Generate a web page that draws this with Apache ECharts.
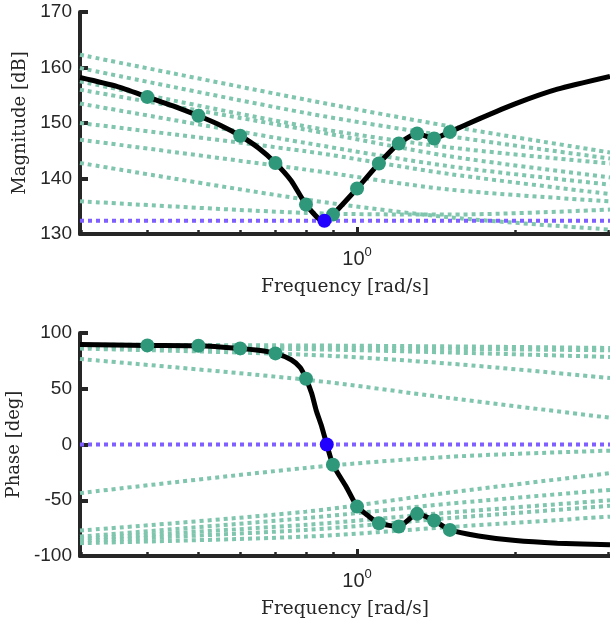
<!DOCTYPE html>
<html lang="en">
<head>
<meta charset="UTF-8">
<title>Bode</title>
<script src="https://cdn.jsdelivr.net/npm/echarts@6.0.0/dist/echarts.min.js"></script>
</head>
<body style="margin:0">
<div id="main" style="width:610px;height:623px;"></div>
<script>
// black response curve (magnitude)
const magFreq = [0.298, 0.35, 0.4, 0.45, 0.5, 0.55, 0.6, 0.65, 0.7, 0.75, 0.8, 0.867, 0.9, 1.0, 1.1, 1.2, 1.3, 1.4, 1.5, 1.7, 2.0, 2.4, 3.02];
const magCurve = [158.2, 156.6, 154.7, 153.0, 151.3, 149.6, 147.7, 145.5, 142.8, 139.6, 135.3, 132.1, 133.5, 138.2, 142.7, 146.3, 148.1, 147.2, 148.4, 150.7, 153.5, 156.1, 158.4];
// black response curve (phase)
const phaseFreq = [0.298, 0.4, 0.5, 0.6, 0.65, 0.7, 0.75, 0.78, 0.8, 0.82, 0.836, 0.857, 0.876, 0.9, 0.953, 1.0, 1.05, 1.1, 1.2, 1.3, 1.4, 1.5, 1.7, 2.0, 2.4, 3.02];
const phaseCurve = [89.6, 88.9, 88.6, 86.2, 84.5, 81.7, 76.0, 69.0, 59.0, 46.0, 31.0, 16.0, 0, -18.2, -37.7, -55.7, -64.0, -70.6, -73.6, -62.2, -68.2, -76.6, -82.0, -86.2, -88.5, -90.0];

// green sample points
const markerFreq = [0.4, 0.5, 0.6, 0.7, 0.8, 0.9, 1.0, 1.1, 1.2, 1.3, 1.4, 1.5];
const magMarkers = [154.7, 151.3, 147.7, 142.8, 135.3, 133.5, 138.2, 142.7, 146.3, 148.1, 147.2, 148.4];
const phaseMarkers = [88.9, 88.6, 86.2, 81.7, 59.0, -18.2, -55.7, -70.6, -73.6, -62.2, -68.2, -76.6];
// blue point
const magBlue = [0.867, 132.4];
const phaseBlue = [0.876, 0];
const magLevel = 132.4;
const phaseLevel = 0;

// green dotted local responses, sampled at lineFreq
const lineFreq = [0.298, 0.8, 1.5, 3.02];
const magLines = [
    [162.3, 154.2, 149.4, 144.7],
    [159.9, 151.8, 147.6, 143.6],
    [157.5, 149.4, 145.6, 142.7],
    [156.0, 148.8, 144.0, 140.2],
    [153.5, 146.4, 142.2, 138.9],
    [150.0, 144.9, 140.8, 137.2],
    [147.0, 141.6, 138.0, 135.9],
    [142.8, 136.2, 133.0, 130.8],
    [135.9, 133.8, 133.5, 134.4]
];
const phaseLines = [
    [89.6, 88.8, 88.0, 86.6],
    [88.5, 87.0, 85.8, 84.5],
    [87.5, 85.5, 82.5, 78.5],
    [86.0, 80.5, 72.5, 59.6],
    [76.7, 58.1, 41.6, 24.0],
    [-43.6, -21.0, -11.0, -5.5],
    [-77.2, -60.2, -43.0, -25.7],
    [-82.6, -66.0, -53.0, -40.7],
    [-84.5, -72.0, -61.0, -50.0],
    [-86.5, -76.6, -66.0, -55.0],
    [-88.5, -82.6, -74.0, -64.7]
];

const tickFreq = [0.3, 0.4, 0.5, 0.6, 0.7, 0.8, 0.9, 2, 3];
const xMin = 0.298, xMax = 3.02;

const lg = Math.log10;
function pts(fs, vs) { return fs.map((f, i) => [lg(f), vs[i]]); }

const axisColor = '#262626';
const green = '#80c5ae';
const dotGreen = '#2f987a';

function xAxes(gi) {
    return [{
        gridIndex: gi, type: 'value', min: lg(xMin), max: lg(xMax), position: 'bottom',
        name: 'Frequency [rad/s]', nameLocation: 'middle', nameGap: 44,
        nameTextStyle: { fontFamily: 'DejaVu Serif', fontSize: 18.5, color: axisColor },
        axisLine: { onZero: false, lineStyle: { color: axisColor, width: 4 } },
        axisTick: { inside: true, length: 4, lineStyle: { color: axisColor, width: 2.5 }, customValues: tickFreq.map(lg) },
        axisLabel: { show: false },
        splitLine: { show: false }
    }, {
        gridIndex: gi, type: 'value', min: lg(xMin), max: lg(xMax), position: 'bottom',
        axisLine: { show: false, onZero: false },
        axisTick: { inside: true, length: 7, lineStyle: { color: axisColor, width: 3 }, customValues: [0] },
        axisLabel: {
            customValues: [0], margin: 12,
            formatter: () => '{b|10}{s|0}',
            rich: {
                b: { fontFamily: 'Liberation Sans', fontSize: 20, color: axisColor },
                s: { fontFamily: 'Liberation Sans', fontSize: 13, color: axisColor, padding: [0, 0, 14, 0] }
            }
        },
        splitLine: { show: false }
    }];
}

function yAxis(gi, name, min, max, interval) {
    return {
        gridIndex: gi, type: 'value', min: min, max: max, interval: interval, position: 'left',
        name: name, nameLocation: 'middle', nameGap: 49,
        nameTextStyle: { fontFamily: 'DejaVu Serif', fontSize: 18, color: axisColor },
        axisLine: { show: true, onZero: false, lineStyle: { color: axisColor, width: 4 } },
        axisTick: { show: true, inside: true, length: 8, lineStyle: { color: axisColor, width: 4 } },
        axisLabel: { margin: 8, fontFamily: 'Liberation Sans', fontSize: 19, color: axisColor },
        splitLine: { show: false }
    };
}

const series = [];
function addPlot(gi, lines, level, cFreq, curve, mVals, blue) {
    const xi = gi * 2;
    lines.forEach(v => series.push({
        type: 'line', xAxisIndex: xi, yAxisIndex: gi, data: pts(lineFreq, v),
        showSymbol: false, smooth: 0.3, z: 1,
        lineStyle: { color: green, width: 4, type: [4, 4] }
    }));
    series.push({
        type: 'line', xAxisIndex: xi, yAxisIndex: gi, data: pts([xMin, xMax], [level, level]),
        showSymbol: false, z: 2,
        lineStyle: { color: '#7f5fff', width: 4, type: [4, 4] }
    });
    series.push({
        type: 'line', xAxisIndex: xi, yAxisIndex: gi, data: pts(cFreq, curve),
        showSymbol: false, smooth: 0.2, z: 3,
        lineStyle: { color: '#000', width: 5 }
    });
    series.push({
        type: 'scatter', xAxisIndex: xi, yAxisIndex: gi, data: pts(markerFreq, mVals),
        symbolSize: 14, z: 4, itemStyle: { color: dotGreen, opacity: 1 }
    });
    series.push({
        type: 'scatter', xAxisIndex: xi, yAxisIndex: gi, data: [[lg(blue[0]), blue[1]]],
        symbolSize: 14, z: 5, itemStyle: { color: '#2200ff', opacity: 1 }
    });
}
addPlot(0, magLines, magLevel, magFreq, magCurve, magMarkers, magBlue);
addPlot(1, phaseLines, phaseLevel, phaseFreq, phaseCurve, phaseMarkers, phaseBlue);

const chart = echarts.init(document.getElementById('main'));
chart.setOption({
    animation: false,
    grid: [
        { left: 80, right: 0, top: 12, height: 222, outerBoundsMode: 'none' },
        { left: 80, right: 0, top: 333, height: 223, outerBoundsMode: 'none' }
    ],
    xAxis: [...xAxes(0), ...xAxes(1)],
    yAxis: [yAxis(0, 'Magnitude [dB]', 130, 170, 10), yAxis(1, 'Phase [deg]', -100, 100, 50)],
    series: series
});
</script>
</body>
</html>
